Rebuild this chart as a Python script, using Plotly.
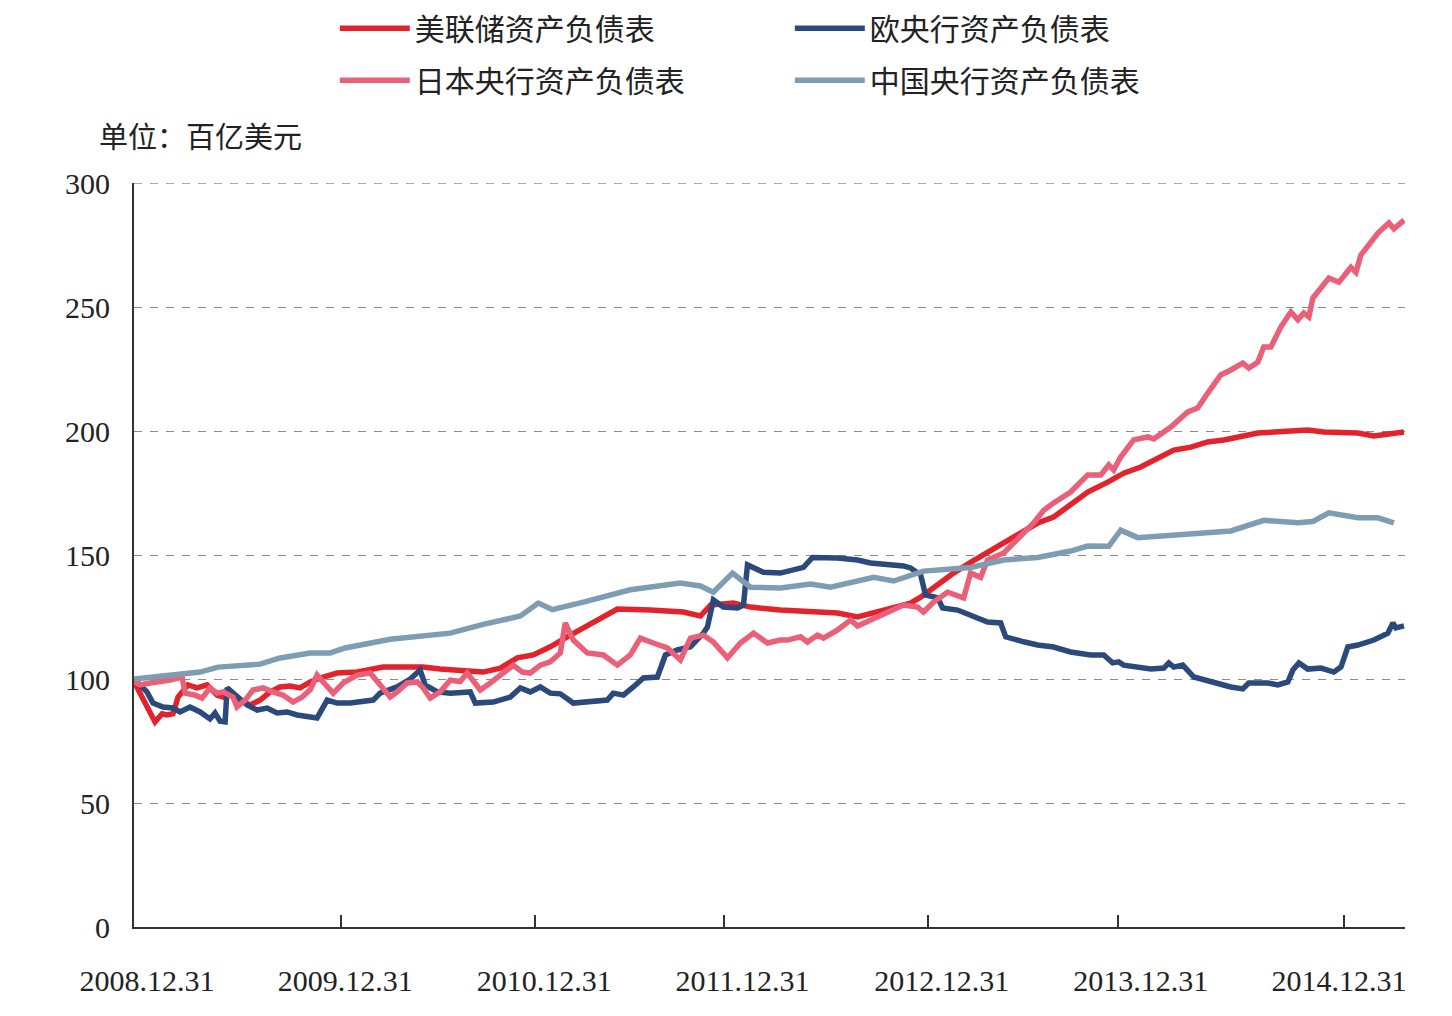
import pandas as pd
import plotly.graph_objects as go

# ---------------- data (x = months after 2008.12.31, y = 百亿美元) ----------------
BASE_DATE = pd.Timestamp("2008-12-31")
DAYS_PER_MONTH = 30.4375

fed_months = [0, 0.54, 1.25, 1.67, 1.96, 2.32, 2.62, 3.21, 3.75, 4.35, 4.94, 5.30, 5.71, 6.31,
              6.90, 7.50, 8.10, 8.69, 9.29, 9.88, 10.48, 11.25, 12.08, 13.27, 14.05, 14.82,
              16.01, 17.20, 18.21, 19.40, 20.77, 21.79, 22.80, 23.75, 24.76, 25.77, 26.73,
              27.74, 28.75, 30.71, 32.68, 33.69, 34.29, 35.65, 36.67, 38.45, 39.82, 41.85,
              43.04, 43.81, 44.82, 46.19, 46.79, 47.80, 48.75, 49.76, 50.77, 51.73, 52.74,
              53.75, 54.70, 55.71, 56.73, 57.92, 58.87, 59.88, 60.89, 61.85, 62.86, 63.87,
              64.82, 65.83, 66.85, 68.81, 69.82, 70.77, 72.80, 73.75, 74.76, 75.54]
fed_values = [99, 91.5, 82.7, 86, 85.5, 86, 92.7, 97.6, 96.4, 97.6, 93.5, 92.7, 94.3, 91.5,
              89.5, 91.5, 94.8, 96.8, 97.2, 96.4, 98.8, 100.8, 102.4, 102.8, 103.6, 104.8,
              104.8, 104.8, 104, 103.6, 102.8, 104.4, 108.5, 109.7, 113, 117, 120.6,
              124.6, 128.2, 127.8, 127, 125.4, 129.8, 130.6, 129, 127.8, 127.4, 126.6,
              125, 126.6, 128.2, 130.6, 133, 138, 142.7, 147, 151, 154.8, 159.3,
              162.9, 165.3, 170.2, 175.4, 179.4, 183, 185.5, 189, 192.3, 193.5, 195.6,
              196.4, 197.6, 199.2, 200, 200.4, 199.6, 199.2, 198, 199.2, 199.6]

ecb_months = [0, 0.77, 1.13, 1.73, 2.32, 2.74, 3.33, 3.93, 4.52, 4.82, 5.12, 5.42, 5.54, 6.13,
              6.73, 7.32, 7.92, 8.51, 9.11, 9.70, 10.30, 10.89, 11.49, 12.08, 12.86, 13.63,
              14.23, 14.64, 15.65, 16.43, 17.02, 17.32, 18.04, 18.81, 20.00, 20.30, 21.37,
              22.38, 22.98, 23.57, 24.17, 24.76, 25.36, 26.13, 27.14, 28.15, 28.51, 29.11,
              29.70, 30.30, 31.13, 31.61, 32.32, 33.10, 33.87, 34.11, 34.46, 35.06, 35.89,
              36.25, 36.49, 37.44, 38.45, 39.82, 40.36, 41.85, 43.04, 43.81, 45.77, 46.19,
              46.79, 47.08, 47.80, 48.10, 48.99, 49.76, 50.77, 51.55, 51.85, 52.92, 53.75,
              54.70, 55.71, 56.90, 57.68, 58.21, 58.57, 58.87, 60.48, 61.25, 61.55, 61.85,
              62.38, 63.04, 63.63, 64.46, 65.24, 65.95, 66.31, 67.44, 68.04, 68.63, 68.93,
              69.29, 69.82, 70.60, 71.37, 71.79, 72.20, 72.80, 73.75, 74.58, 74.88, 75.06,
              75.54]
ecb_values = [100, 94.8, 90.3, 88.7, 88.3, 86.7, 88.7, 86.7, 83.9, 86.3, 83, 82.7, 96.4, 92.7,
              89.5, 87.5, 88.3, 86.3, 86.7, 85.5, 84.7, 84.3, 91.5, 90.3, 90.3, 90.7,
              91.5, 94.3, 96.8, 100, 103.6, 97.6, 94.8, 94.3, 94.8, 90.3, 90.7,
              92.7, 96.4, 94.8, 96.8, 94.3, 94, 90.3, 90.7, 91.5, 94.3, 93.5,
              96.8, 100.4, 100.8, 109.7, 111.7, 113, 118.5, 121, 131.9, 129, 128.6,
              129.8, 146, 143, 142.7, 145, 149, 148.8, 148, 146.8, 145.6, 144.8,
              142, 133.9, 132.7, 128.6, 127.8, 125.8, 123, 122.6, 117, 115, 113.7,
              112.9, 110.9, 109.7, 109.7, 106.5, 106.9, 105.6, 104, 104.4, 106.5, 104.8,
              105.6, 100.8, 99.6, 98.4, 96.8, 96, 98.4, 98.4, 97.6, 98.8, 103.6,
              106.5, 104, 104.4, 102.8, 104.8, 112.9, 113.7, 115.7, 118.5, 122.6, 120.6,
              121.4]

boj_months = [0, 0.36, 0.95, 1.55, 2.14, 2.86, 3.04, 3.63, 4.05, 4.52, 4.94, 5.30, 5.89, 6.13,
              6.61, 7.08, 7.68, 8.27, 8.87, 9.46, 10.00, 10.48, 10.89, 11.25, 11.85, 12.44,
              13.27, 14.05, 14.64, 15.24, 15.65, 16.25, 16.85, 17.20, 17.62, 18.21, 18.81,
              19.40, 19.82, 20.60, 21.19, 21.96, 22.56, 23.10, 23.57, 24.17, 24.76, 25.36,
              25.65, 26.13, 26.96, 27.92, 28.75, 29.52, 30.12, 30.89, 31.73, 32.50, 33.10,
              33.87, 34.46, 35.30, 36.07, 36.85, 37.68, 38.45, 38.87, 39.64, 40.06, 40.65,
              41.01, 41.85, 42.62, 43.04, 43.81, 44.82, 45.77, 46.61, 46.96, 47.56, 48.39,
              49.35, 49.76, 50.36, 50.77, 51.73, 52.74, 53.51, 54.11, 54.70, 55.71, 56.73,
              57.50, 57.98, 58.27, 58.69, 59.46, 60.30, 60.65, 61.67, 62.68, 63.27, 63.87,
              64.64, 65.24, 65.95, 66.31, 66.85, 67.20, 67.62, 68.21, 68.81, 69.23, 69.58,
              69.88, 70.12, 71.07, 71.67, 72.38, 72.68, 72.98, 73.99, 74.64, 74.94, 75.54]
boj_values = [99, 97.6, 98.4, 98.8, 99.6, 100.8, 94.3, 93.5, 92.3, 96.4, 94.3, 94.8, 92.7, 88.7,
              91.5, 95.6, 96.4, 94.8, 93.5, 90.7, 92.7, 95.6, 101.6, 98.8, 94.3, 98.4,
              101.6, 102.4, 97.6, 92.7, 94.8, 98.4, 98.8, 96.4, 92.3, 94.8, 99.5,
              99, 102.4, 95.6, 98.4, 102.4, 105.6, 102.8, 102.4, 105.6, 106.9, 110.5,
              122.6, 115.7, 110.5, 109.7, 105.6, 109.7, 116.5, 114.5, 112.5, 107.7, 116.5,
              117.7, 114.9, 108.5, 114.5, 118.5, 114.5, 115.7, 115.7, 117, 114.9, 117.7,
              116.5, 119.8, 123.8, 121.4, 123.8, 126.6, 129.8, 129, 127, 131, 135,
              132.7, 142.7, 141, 148, 150.8, 158, 162.9, 168, 171, 175.4, 182.3,
              182.3, 186.3, 184.3, 189.5, 196.4, 197.6, 196.8, 201.6, 207.7, 209.3, 215.3,
              222.6, 224.6, 227.4, 225.4, 227.8, 233.9, 233.9, 241.9, 248, 244.8, 247.6,
              246, 253.6, 261.7, 260, 266, 264, 271, 279.8, 283.9, 281.5, 285]

pboc_months = [0, 3.93, 5.0, 7.5, 8.69, 10.48, 11.67, 12.56, 15.24, 18.81, 20.77, 22.98, 24.05,
               24.88, 26.73, 29.52, 32.5, 33.69, 34.46, 35.6, 36.67, 38.45, 40.24, 41.43,
               43.99, 45.18, 46.96, 49.76, 51.73, 53.75, 55.71, 56.73, 57.98, 58.69, 59.7,
               65.24, 67.2, 69.23, 70.12, 71.07, 72.8, 73.99, 74.94]
pboc_values = [100, 102.8, 104.8, 106, 108.5, 110.5, 110.5, 112.5, 116, 118.5, 122, 125.4, 130.6,
               128, 131, 136, 138.7, 137.5, 135, 142.7, 137, 136.7, 138.3, 137,
               141, 139.5, 143.5, 145, 148, 149, 151.6, 153.6, 153.5, 160, 157,
               159.7, 164, 163, 163.5, 167, 165, 165, 163]

series_names = ["美联储资产负债表", "欧央行资产负债表", "日本央行资产负债表", "中国央行资产负债表"]
series_colors = ["#e3232c", "#2b4a7b", "#ea6079", "#7e9db2"]

label_months = [0.77, 12.56, 24.40, 36.19, 48.04, 59.88, 71.67]
label_texts = ["2008.12.31", "2009.12.31", "2010.12.31", "2011.12.31",
               "2012.12.31", "2013.12.31", "2014.12.31"]
tickmark_months = [12.32, 23.87, 35.12, 47.20, 58.51, 71.96]
x_end_month = 75.6
y_max = 300


def to_dates(months):
    return [BASE_DATE + pd.Timedelta(days=m * DAYS_PER_MONTH) for m in months]


SERIF = "Liberation Serif, Times New Roman, serif"
CJK = "Noto Sans CJK SC, sans-serif"
GRID_COLOR = "#8c8c8c"

fig = go.Figure()
all_data = [(fed_months, fed_values), (ecb_months, ecb_values),
            (boj_months, boj_values), (pboc_months, pboc_values)]
legend_ids = ["legend", "legend", "legend2", "legend2"]
for (mths, vals), name, color, lg in zip(all_data, series_names, series_colors, legend_ids):
    fig.add_trace(go.Scatter(
        x=to_dates(mths), y=vals, mode="lines", name=name,
        line=dict(color=color, width=5.5), legend=lg,
    ))

legend_common = dict(
    orientation="h", xanchor="left", yanchor="top",
    font=dict(family=CJK, size=30, color="#222222"),
    bgcolor="rgba(0,0,0,0)", itemwidth=70, entrywidth=370,
    traceorder="normal",
)

fig.update_layout(
    width=1452, height=1016,
    margin=dict(l=134, r=47, t=183, b=89, autoexpand=False),
    paper_bgcolor="white", plot_bgcolor="white",
    showlegend=True,
    legend=dict(x=0.158, y=1.243, **legend_common),
    legend2=dict(x=0.158, y=1.173, **legend_common),
    xaxis=dict(
        type="date",
        range=to_dates([0, x_end_month]),
        showline=True, linecolor="#333333", linewidth=2,
        showgrid=False, zeroline=False,
        tickmode="array", tickvals=to_dates(label_months), ticktext=label_texts,
        ticks="", ticklabelstandoff=26,
        tickfont=dict(family=SERIF, size=30, color="#222222"),
        minor=dict(tickmode="array", tickvals=to_dates(tickmark_months),
                   ticks="inside", ticklen=12, tickwidth=1.5, tickcolor="#333333",
                   showgrid=False),
    ),
    yaxis=dict(
        range=[0, y_max], tickmode="linear", tick0=0, dtick=50,
        showline=True, linecolor="#333333", linewidth=2,
        showgrid=True, gridcolor=GRID_COLOR, gridwidth=1.3, griddash="8px,8px",
        zeroline=False, ticks="", ticklabelstandoff=16,
        tickfont=dict(family=SERIF, size=30, color="#222222"),
    ),
    shapes=[dict(
        type="line", xref="paper", yref="y", x0=0, x1=1, y0=y_max, y1=y_max,
        line=dict(color=GRID_COLOR, width=1.3, dash="8px,8px"), layer="below",
    )],
    annotations=[dict(
        text="单位：百亿美元", xref="paper", yref="paper",
        x=-0.029, y=1.0645, xanchor="left", yanchor="middle", showarrow=False,
        font=dict(family=CJK, size=29, color="#222222"),
    )],
)

fig.write_html("out.html")
